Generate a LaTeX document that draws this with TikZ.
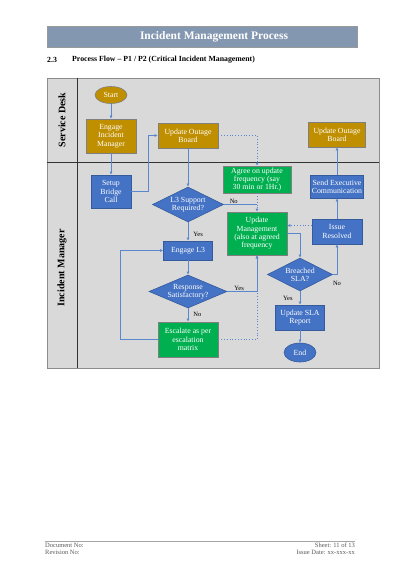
\documentclass[tikz,border=0pt]{standalone}
\usepackage{fontspec}
\setmainfont{Liberation Serif}
\usetikzlibrary{shapes.geometric,arrows.meta}
\definecolor{gold}{HTML}{BF8F00}
\definecolor{bblue}{HTML}{4472C4}
\definecolor{ggreen}{HTML}{00B050}
\definecolor{panel}{HTML}{D9D9D9}
\definecolor{titlebar}{HTML}{8497B0}
\definecolor{arrowc}{HTML}{5B87D0}
\definecolor{bordc}{HTML}{7F7F7F}
\begin{document}
\begin{tikzpicture}[x=1pt,y=-1pt,
  box/.style={draw=bordc, line width=0.6pt, align=center, text=white,
    font=\fontsize{7.8}{8.3}\selectfont, inner sep=0.5pt},
  gbox/.style={box, fill=gold},
  bbox/.style={box, fill=bblue, draw=bblue!80!black},
  grbox/.style={box, fill=ggreen},
  dia/.style={box, diamond, fill=bblue, draw=bblue!80!black, inner sep=0pt},
  dialbl/.style={align=center, text=white, font=\fontsize{7.8}{8.3}\selectfont, inner sep=0pt},
  ell/.style={box, ellipse, inner sep=0pt},
  arr/.style={draw=arrowc, line width=0.8pt, -{Latex[length=3pt,width=3pt]}},
  arrd/.style={arr, dotted},
  ln/.style={draw=arrowc, line width=0.8pt},
  lbl/.style={font=\fontsize{6.5}{7}\selectfont, text=black, inner sep=1pt},
  lane/.style={rotate=90, font=\bfseries\fontsize{10}{11}\selectfont},
  foot/.style={inner sep=0pt, text=gray!70!black, font=\fontsize{6.5}{7}\selectfont}
]
\useasboundingbox[fill=white] (0,0) rectangle (400,580);

% header
\draw[draw=bordc!80, fill=titlebar] (47,26) rectangle (357,47);
\node[text=white, font=\bfseries\fontsize{11.5}{12}\selectfont] (title) at (214,36.5) {Incident Management Process};
\node[anchor=west, font=\bfseries\fontsize{7.8}{8}\selectfont, inner sep=0pt] (num) at (47,60) {2.3};
\node[anchor=west, font=\bfseries\fontsize{7.8}{8}\selectfont, inner sep=0pt] (head) at (72,60) {Process Flow -- P1 / P2 (Critical Incident Management)};

% panel
\draw[fill=panel, draw=gray!90] (47,78) rectangle (379,368);
\draw[draw=gray!40!black, line width=0.6pt] (47,162) -- (379,162);
\draw[draw=gray!40!black, line width=0.6pt] (77,78) -- (77,368);
\node[lane] (sd) at (62,120) {Service Desk};
\node[lane] (im) at (62,268) {Incident Manager};

% nodes
\node[ell, fill=gold, minimum width=32pt, minimum height=17pt] (start) at (111,95) {Start};
\node[gbox, minimum width=50pt, minimum height=34pt] (eim) at (111,136) {Engage\\Incident\\Manager};
\node[gbox, minimum width=60pt, minimum height=25pt] (uob1) at (188,135.5) {Update Outage\\Board};
\node[gbox, minimum width=57pt, minimum height=25pt] (uob2) at (337,134.5) {Update Outage\\Board};
\node[bbox, minimum width=40pt, minimum height=33pt] (bridge) at (111,191.5) {Setup\\Bridge\\Call};
\node[grbox, minimum width=68pt, minimum height=27pt] (agree) at (257,179.5) {Agree on update\\frequency (say\\30 min or 1Hr.)};
\node[dia, minimum width=71pt, minimum height=35pt, label={[dialbl]center:L3 Support\\Required?}] (l3) at (188,204.5) {};
\node[bbox, minimum width=53pt, minimum height=23pt] (sec) at (337,186.5) {Send Executive\\Communication};
\node[grbox, minimum width=60pt, minimum height=43pt] (um) at (257,233.5) {Update\\Management\\(also at agreed\\frequency};
\node[bbox, minimum width=50pt, minimum height=25pt] (ir) at (337,231.5) {Issue\\Resolved};
\node[bbox, minimum width=49pt, minimum height=19pt] (el3) at (188,250.5) {Engage L3};
\node[dia, minimum width=65pt, minimum height=33pt, label={[dialbl]center:Breached\\SLA?}] (br) at (300,274.5) {};
\node[dia, minimum width=78pt, minimum height=33pt, label={[dialbl]center:Response\\Satisfactory?}] (resp) at (188,291.5) {};
\node[bbox, minimum width=49pt, minimum height=25pt] (sla) at (300,317.5) {Update SLA\\Report};
\node[grbox, minimum width=60pt, minimum height=35pt] (esc) at (188,339.5) {Escalate as per\\escalation\\matrix};
\node[ell, fill=bblue, draw=bblue!80!black, minimum width=32pt, minimum height=19pt] (end) at (300,352.5) {End};

% connectors
\draw[arr] (start) -- (eim);
\draw[arr] (eim) -- (bridge);
\draw[arr] (bridge.east) -- ++(17,0) |- (uob1.west);
\draw[arr] (uob1) -- (l3);
\draw[arrd] (uob1.east) -| (agree.north);
\draw[arrd] (agree) -- (um);
\draw[ln] (l3.east) -- node[lbl, above, pos=0.3] {No} (l3.east -| um.north);
\draw[arr] (l3) -- node[lbl, right=4pt, pos=0.68] {Yes} (el3);
\draw[arr] (el3) -- (resp);
\draw[arrd] (esc.east) -| (um.south);
\draw[arr] (resp.east) -| node[lbl, above, pos=0.2] {Yes} (um.south);
\draw[arr] (resp) -- node[lbl, right=4pt, pos=0.43] {No} (esc);
\draw[arr] (esc.west) -- ++(-37,0) |- (el3.west);
\draw[arr] (um.east) -| (br.north);
\draw[arr] (br) -- node[lbl, left=6pt, pos=0.5] {Yes} (sla);
\draw[arr] (br.east) -| node[lbl, below=5pt, pos=0.5] {No} (ir.south);
\draw[arrd] ([yshift=6pt]ir.west) -- ([yshift=6pt]ir.west -| um.east);
\draw[arr] (ir) -- (sec);
\draw[arr] (sec) -- (uob2);
\draw[arr] (sla) -- (end);

% footer
\draw[draw=gray!70, line width=0.5pt] (45,541) -- (355,541);
\node[foot, anchor=west] (dn) at (45,545) {Document No:};
\node[foot, anchor=west] (rn) at (45,552) {Revision No:};
\node[foot, anchor=east] (sh) at (355,545) {Sheet: 11 of 13};
\node[foot, anchor=east] (idt) at (355,552) {Issue Date: xx-xxx-xx};
\end{tikzpicture}
\end{document}
